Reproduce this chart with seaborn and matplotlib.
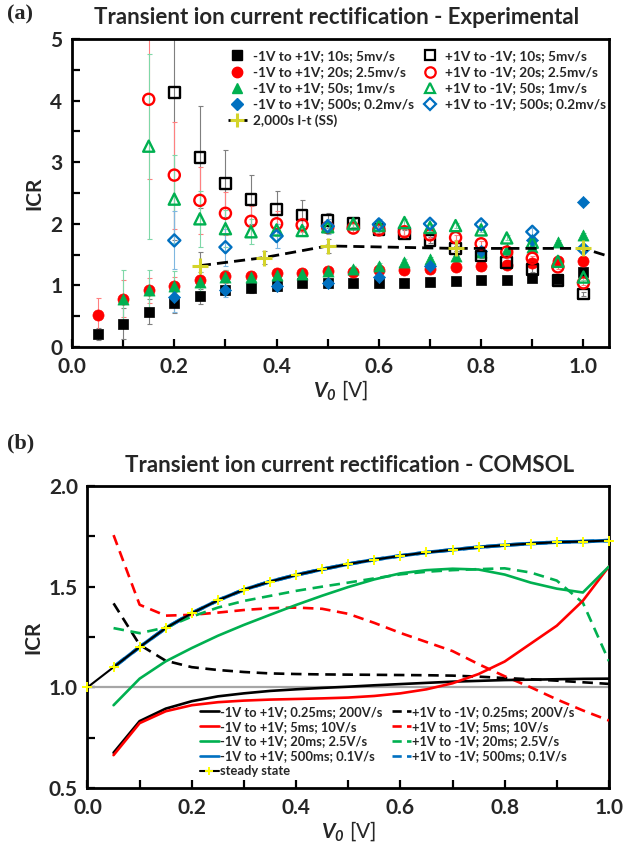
import matplotlib
matplotlib.use("Agg")
import matplotlib.pyplot as plt
from matplotlib.lines import Line2D
from matplotlib.ticker import MultipleLocator, FormatStrFormatter
import seaborn as sns

# ---------------- (a) experimental data ----------------
blk_up_x = [0.05, 0.10, 0.15, 0.20, 0.25, 0.30, 0.35, 0.40, 0.45, 0.50, 0.55, 0.60, 0.65, 0.70, 0.75, 0.80, 0.85, 0.90, 0.95, 1.00]
blk_up_y = [0.21, 0.375, 0.575, 0.72, 0.82, 0.92, 0.96, 0.99, 1.035, 1.035, 1.035, 1.04, 1.045, 1.06, 1.075, 1.08, 1.09, 1.12, 1.11, 1.21]
blk_up_e = [0.10, 0.25, 0.20, 0.17, 0.12, 0.08, 0.08, 0.06, 0.05, 0.04, 0.04, 0.04, 0.03, 0.03, 0.03, 0.03, 0.03, 0.03, 0.03, 0.03]

blk_dn_x = [0.20, 0.25, 0.30, 0.35, 0.40, 0.45, 0.50, 0.55, 0.60, 0.65, 0.70, 0.75, 0.80, 0.85, 0.90, 0.95, 1.00]
blk_dn_y = [4.13, 3.08, 2.65, 2.39, 2.23, 2.14, 2.05, 2.00, 1.91, 1.845, 1.73, 1.60, 1.48, 1.37, 1.26, 1.08, 0.86]
blk_dn_e = [2.40, 0.83, 0.54, 0.40, 0.30, 0.24, 0.12, 0.08, 0.06, 0.05, 0.05, 0.04, 0.04, 0.04, 0.04, 0.04, 0.04]

red_up_x = [0.05, 0.10, 0.15, 0.20, 0.25, 0.30, 0.35, 0.40, 0.45, 0.50, 0.55, 0.60, 0.65, 0.70, 0.75, 0.80, 0.85, 0.90, 0.95, 1.00]
red_up_y = [0.52, 0.78, 0.92, 0.99, 1.09, 1.145, 1.16, 1.20, 1.20, 1.23, 1.22, 1.25, 1.25, 1.27, 1.30, 1.32, 1.335, 1.37, 1.39, 1.40]
red_up_e = [0.28, 0.30, 0.20, 0.15, 0.12, 0.10, 0.08, 0.07, 0.06, 0.05, 0.05, 0.05, 0.04, 0.04, 0.04, 0.04, 0.04, 0.04, 0.04, 0.04]

red_dn_x = [0.15, 0.20, 0.25, 0.30, 0.35, 0.40, 0.45, 0.50, 0.55, 0.60, 0.65, 0.70, 0.75, 0.80, 0.85, 0.90, 0.95, 1.00]
red_dn_y = [4.02, 2.79, 2.38, 2.17, 2.04, 2.00, 1.98, 1.94, 1.93, 1.90, 1.87, 1.82, 1.775, 1.675, 1.54, 1.44, 1.30, 1.04]
red_dn_e = [1.30, 0.87, 0.54, 0.35, 0.25, 0.20, 0.12, 0.08, 0.06, 0.05, 0.05, 0.05, 0.04, 0.04, 0.04, 0.04, 0.04, 0.04]

grn_up_x = [0.10, 0.15, 0.20, 0.25, 0.30, 0.35, 0.40, 0.45, 0.50, 0.55, 0.60, 0.65, 0.70, 0.75, 0.80, 0.85, 0.90, 0.95, 1.00]
grn_up_y = [0.78, 0.92, 0.99, 1.06, 1.13, 1.135, 1.17, 1.19, 1.23, 1.27, 1.31, 1.38, 1.42, 1.48, 1.54, 1.59, 1.62, 1.70, 1.81]
grn_up_e = [0.47, 0.33, 0.25, 0.15, 0.12, 0.08, 0.07, 0.06, 0.05, 0.05, 0.05, 0.05, 0.04, 0.04, 0.04, 0.04, 0.04, 0.04, 0.04]

grn_dn_x = [0.15, 0.20, 0.25, 0.30, 0.35, 0.40, 0.45, 0.50, 0.55, 0.60, 0.65, 0.70, 0.75, 0.80, 0.85, 0.90, 0.95, 1.00]
grn_dn_y = [3.26, 2.40, 2.08, 1.92, 1.87, 1.90, 1.89, 1.95, 2.00, 1.97, 2.02, 1.94, 1.97, 1.90, 1.77, 1.70, 1.39, 1.135]
grn_dn_e = [1.50, 0.72, 0.45, 0.30, 0.20, 0.10, 0.08, 0.06, 0.05, 0.05, 0.05, 0.05, 0.04, 0.04, 0.04, 0.04, 0.04, 0.04]

blu_up_x = [0.2, 0.3, 0.4, 0.5, 0.6, 0.7, 0.8, 0.9, 1.0]
blu_up_y = [0.81, 0.93, 0.99, 1.04, 1.14, 1.31, 1.55, 1.74, 2.35]
blu_up_e = [0.25, 0.12, 0.08, 0.05, 0.05, 0.05, 0.05, 0.05, 0.05]

blu_dn_x = [0.2, 0.3, 0.4, 0.5, 0.6, 0.7, 0.8, 0.9, 1.0]
blu_dn_y = [1.73, 1.62, 1.80, 1.96, 1.99, 2.00, 1.99, 1.87, 1.59]
blu_dn_e = [0.47, 0.30, 0.20, 0.12, 0.08, 0.06, 0.06, 0.06, 0.05]

ss_x = [0.25, 0.375, 0.50, 0.75, 1.00, 1.25]
ss_y = [1.32, 1.45, 1.64, 1.60, 1.60, 0.95]
ss_e = [0.22, 0.10, 0.12, 0.04, 0.04, 0.04]

labels_a = ["-1V to +1V; 10s; 5mv/s", "-1V to +1V; 20s; 2.5mv/s", "-1V to +1V; 50s; 1mv/s",
            "-1V to +1V; 500s; 0.2mv/s", "2,000s I-t (SS)",
            "+1V to -1V; 10s; 5mv/s", "+1V to -1V; 20s; 2.5mv/s", "+1V to -1V; 50s; 1mv/s",
            "+1V to -1V; 500s; 0.2mv/s"]

# ---------------- (b) COMSOL data ----------------
v_ss = [0.00, 0.05, 0.10, 0.15, 0.20, 0.25, 0.30, 0.35, 0.40, 0.45, 0.50, 0.55, 0.60, 0.65, 0.70, 0.75, 0.80, 0.85, 0.90, 0.95, 1.00]
icr_ss = [1.00, 1.10, 1.20, 1.294, 1.368, 1.432, 1.485, 1.525, 1.558, 1.586, 1.612, 1.634, 1.653, 1.67, 1.683, 1.696, 1.706, 1.714, 1.721, 1.724, 1.729]

v_t = [0.05, 0.10, 0.15, 0.20, 0.25, 0.30, 0.35, 0.40, 0.45, 0.50, 0.55, 0.60, 0.65, 0.70, 0.75, 0.80, 0.85, 0.90, 0.95, 1.00]
icr_k_up = [0.675, 0.832, 0.894, 0.931, 0.955, 0.97, 0.982, 0.99, 0.997, 1.003, 1.01, 1.016, 1.022, 1.028, 1.032, 1.036, 1.038, 1.04, 1.042, 1.043]
icr_r_up = [0.663, 0.822, 0.881, 0.911, 0.926, 0.934, 0.939, 0.942, 0.945, 0.949, 0.957, 0.970, 0.99, 1.02, 1.066, 1.128, 1.217, 1.306, 1.43, 1.60]
icr_g_up = [0.911, 1.043, 1.129, 1.195, 1.256, 1.31, 1.36, 1.409, 1.455, 1.498, 1.536, 1.566, 1.582, 1.589, 1.585, 1.56, 1.52, 1.49, 1.471, 1.60]
icr_b_up = [1.10, 1.20, 1.294, 1.368, 1.432, 1.485, 1.525, 1.558, 1.586, 1.612, 1.634, 1.653, 1.67, 1.683, 1.696, 1.706, 1.714, 1.721, 1.724, 1.729]
icr_k_dn = [1.417, 1.211, 1.132, 1.10, 1.086, 1.076, 1.069, 1.066, 1.064, 1.063, 1.062, 1.061, 1.06, 1.058, 1.053, 1.046, 1.04, 1.033, 1.025, 1.017]
icr_r_dn = [1.756, 1.41, 1.356, 1.36, 1.371, 1.384, 1.393, 1.396, 1.39, 1.365, 1.32, 1.27, 1.225, 1.18, 1.115, 1.055, 1.0, 0.94, 0.885, 0.835]
icr_g_dn = [1.294, 1.269, 1.297, 1.351, 1.396, 1.429, 1.454, 1.479, 1.50, 1.52, 1.541, 1.561, 1.574, 1.582, 1.587, 1.591, 1.57, 1.53, 1.42, 1.13]
icr_b_dn = [1.10, 1.20, 1.294, 1.368, 1.432, 1.485, 1.525, 1.558, 1.586, 1.612, 1.634, 1.653, 1.67, 1.683, 1.696, 1.706, 1.714, 1.721, 1.724, 1.729]

labels_b = ["-1V to +1V; 0.25ms; 200V/s", "-1V to +1V; 5ms; 10V/s", "-1V to +1V; 20ms; 2.5V/s",
            "-1V to +1V; 500ms; 0.1V/s", "steady state",
            "+1V to -1V; 0.25ms; 200V/s", "+1V to -1V; 5ms; 10V/s", "+1V to -1V; 20ms; 2.5V/s",
            "+1V to -1V; 500ms; 0.1V/s"]

# ---------------- style ----------------
sns.set_style("ticks")
FONT = ["Lato", "DejaVu Sans"]
plt.rcParams["font.family"] = FONT
plt.rcParams["font.weight"] = "bold"
plt.rcParams["mathtext.fontset"] = "custom"
plt.rcParams["mathtext.bfit"] = "Lato:italic:bold"
plt.rcParams["mathtext.it"] = "Lato:italic:bold"
plt.rcParams["mathtext.rm"] = "Lato:bold"

BLACK = "#000000"
RED = "#FF0000"
GREEN = "#00B050"
BLUE = "#0070C0"
OLIVE_Y = "#D4D42A"
YELLOW = "#FFFF00"
GREY = "#A6A6A6"

fig = plt.figure(figsize=(6.24, 8.55), dpi=100)
ax1 = fig.add_axes([0.1154, 0.5942, 0.8606, 0.3602])
ax2 = fig.add_axes([0.1402, 0.0784, 0.8357, 0.3532])

# ---------------- panel (a) ----------------
ebar_cols = {BLACK: "#7F7F7F", RED: "#FF8080", GREEN: "#7FD8A8", BLUE: "#7FB7E0"}
series = [
    (blk_up_x, blk_up_y, blk_up_e, BLACK, "s", True, 58),
    (red_up_x, red_up_y, red_up_e, RED, "o", True, 64),
    (grn_up_x, grn_up_y, grn_up_e, GREEN, "^", True, 64),
    (blu_up_x, blu_up_y, blu_up_e, BLUE, "D", True, 38),
    (blk_dn_x, blk_dn_y, blk_dn_e, BLACK, "s", False, 58),
    (red_dn_x, red_dn_y, red_dn_e, RED, "o", False, 64),
    (grn_dn_x, grn_dn_y, grn_dn_e, GREEN, "^", False, 64),
    (blu_dn_x, blu_dn_y, blu_dn_e, BLUE, "D", False, 38),
]
for xs, ys, es, col, mk, filled, s in series:
    ax1.errorbar(xs, ys, yerr=es, fmt="none", ecolor=ebar_cols[col], elinewidth=0.8,
                 capsize=1.8, capthick=0.8, zorder=1)
for xs, ys, es, col, mk, filled, s in series:
    if filled:
        sns.scatterplot(x=xs, y=ys, ax=ax1, marker=mk, s=s, color=col, edgecolor=col,
                        linewidth=0.5, zorder=3)
    else:
        sns.scatterplot(x=xs, y=ys, ax=ax1, marker=mk, s=s, facecolor="none", edgecolor=col,
                        linewidth=1.7, zorder=4)

ax1.errorbar(ss_x, ss_y, yerr=ss_e, fmt="none", ecolor="#7F7F7F", elinewidth=0.8,
             capsize=1.8, capthick=0.8, zorder=1)
sns.lineplot(x=ss_x, y=ss_y, ax=ax1, color=BLACK, lw=2.0, linestyle=(0, (4, 2.2)), zorder=5)
sns.scatterplot(x=ss_x, y=ss_y, ax=ax1, marker="+", s=120, color=OLIVE_Y, linewidth=2.2, zorder=6)

ax1.set_xlim(0, 1.05)
ax1.set_ylim(0, 5)
ax1.xaxis.set_major_locator(MultipleLocator(0.2))
ax1.xaxis.set_minor_locator(MultipleLocator(0.1))
ax1.yaxis.set_major_locator(MultipleLocator(1))
ax1.yaxis.set_minor_locator(MultipleLocator(0.5))
ax1.xaxis.set_major_formatter(FormatStrFormatter("%.1f"))
ax1.yaxis.set_major_formatter(FormatStrFormatter("%d"))
ax1.set_ylabel("ICR", fontsize=15, fontweight="bold", labelpad=4)
ax1.set_xlabel(r"$\mathbfit{V_0}$ [V]", fontsize=15, fontweight="normal", labelpad=1)

handles_a = [
    Line2D([], [], ls="none", marker="s", ms=7, color=BLACK),
    Line2D([], [], ls="none", marker="o", ms=7.5, color=RED),
    Line2D([], [], ls="none", marker="^", ms=7.5, color=GREEN),
    Line2D([], [], ls="none", marker="D", ms=6, color=BLUE),
    Line2D([], [], ls=(0, (3, 1.5)), lw=2, color=BLACK, marker="+", ms=10, mew=2.2,
           mec=OLIVE_Y),
    Line2D([], [], ls="none", marker="s", ms=7, mfc="none", mec=BLACK, mew=1.6),
    Line2D([], [], ls="none", marker="o", ms=7.5, mfc="none", mec=RED, mew=1.6),
    Line2D([], [], ls="none", marker="^", ms=7.5, mfc="none", mec=GREEN, mew=1.6),
    Line2D([], [], ls="none", marker="D", ms=6, mfc="none", mec=BLUE, mew=1.6),
]
ax1.legend(handles_a, labels_a, ncol=2, loc="upper left", bbox_to_anchor=(0.275, 0.99),
           frameon=False, handlelength=1.4, handletextpad=0.45,
           columnspacing=0.45, labelspacing=0.3, borderpad=0.1,
           prop={"family": FONT, "weight": "bold", "size": 9.8})

# ---------------- panel (b) ----------------
ax2.axhline(1.0, color=GREY, lw=1.6, zorder=1)
LW = 1.9
DASH = (0, (4, 2.5))
sns.lineplot(x=v_t, y=icr_b_up, ax=ax2, color=BLUE, lw=2.6, zorder=2)
sns.lineplot(x=v_t, y=icr_b_dn, ax=ax2, color=BLUE, lw=2.6, linestyle=DASH, zorder=2)
sns.lineplot(x=v_t, y=icr_k_dn, ax=ax2, color=BLACK, lw=LW, linestyle=DASH, zorder=3)
sns.lineplot(x=v_t, y=icr_r_dn, ax=ax2, color=RED, lw=LW, linestyle=DASH, zorder=3)
sns.lineplot(x=v_t, y=icr_g_dn, ax=ax2, color=GREEN, lw=LW, linestyle=DASH, zorder=3)
sns.lineplot(x=v_t, y=icr_k_up, ax=ax2, color=BLACK, lw=LW, zorder=3)
sns.lineplot(x=v_t, y=icr_r_up, ax=ax2, color=RED, lw=LW, zorder=4)
sns.lineplot(x=v_t, y=icr_g_up, ax=ax2, color=GREEN, lw=LW, zorder=4)
sns.lineplot(x=v_ss, y=icr_ss, ax=ax2, color=BLACK, lw=1.5, zorder=5)
sns.scatterplot(x=v_ss, y=icr_ss, ax=ax2, marker="+", s=45, color=YELLOW, linewidth=1.4,
                zorder=6, clip_on=False)

ax2.set_xlim(0, 1.0)
ax2.set_ylim(0.5, 2.0)
ax2.xaxis.set_major_locator(MultipleLocator(0.2))
ax2.xaxis.set_minor_locator(MultipleLocator(0.1))
ax2.yaxis.set_major_locator(MultipleLocator(0.5))
ax2.yaxis.set_minor_locator(MultipleLocator(0.25))
ax2.xaxis.set_major_formatter(FormatStrFormatter("%.1f"))
ax2.yaxis.set_major_formatter(FormatStrFormatter("%.1f"))
ax2.set_ylabel("ICR", fontsize=15, fontweight="bold", labelpad=4)
ax2.set_xlabel(r"$\mathbfit{V_0}$ [V]", fontsize=15, fontweight="normal", labelpad=1)

handles_b = [
    Line2D([], [], color=BLACK, lw=LW),
    Line2D([], [], color=RED, lw=LW),
    Line2D([], [], color=GREEN, lw=LW),
    Line2D([], [], color=BLUE, lw=LW),
    Line2D([], [], color=BLACK, lw=1.5, marker="+", ms=6, mew=1.4, mec=YELLOW),
    Line2D([], [], color=BLACK, lw=LW, ls=(0, (3.5, 2))),
    Line2D([], [], color=RED, lw=LW, ls=(0, (3.5, 2))),
    Line2D([], [], color=GREEN, lw=LW, ls=(0, (3.5, 2))),
    Line2D([], [], color=BLUE, lw=LW, ls=(0, (3.5, 2))),
]
ax2.legend(handles_b, labels_b, ncol=2, loc="lower left", bbox_to_anchor=(0.2, 0.01),
           frameon=False, handlelength=1.5, handletextpad=0.1, columnspacing=0.7,
           labelspacing=0.22, borderpad=0.1,
           prop={"family": FONT, "weight": "bold", "size": 9.3})

for ax in (ax1, ax2):
    for sp in ax.spines.values():
        sp.set_linewidth(2.0)
        sp.set_color(BLACK)
        sp.set_visible(True)
    ax.tick_params(which="both", direction="in", width=1.6, color=BLACK,
                   top=False, right=False, labelsize=15, pad=7)
    ax.tick_params(which="major", length=6)
    ax.tick_params(which="minor", length=6)
    for lab in ax.get_xticklabels() + ax.get_yticklabels():
        lab.set_fontweight("bold")
    ax.set_facecolor("white")

fig.text(0.54, 0.979, "Transient ion current rectification - Experimental", ha="center",
         va="center", fontsize=16, fontweight="bold")
fig.text(0.56, 0.455, "Transient ion current rectification - COMSOL", ha="center",
         va="center", fontsize=16, fontweight="bold")
fig.text(0.012, 0.983, "(a)", ha="left", va="center", fontsize=16, fontweight="bold",
         family=["Liberation Serif", "DejaVu Serif"])
fig.text(0.012, 0.481, "(b)", ha="left", va="center", fontsize=16, fontweight="bold",
         family=["Liberation Serif", "DejaVu Serif"])

fig.savefig("out.png", dpi=100, facecolor="white")
